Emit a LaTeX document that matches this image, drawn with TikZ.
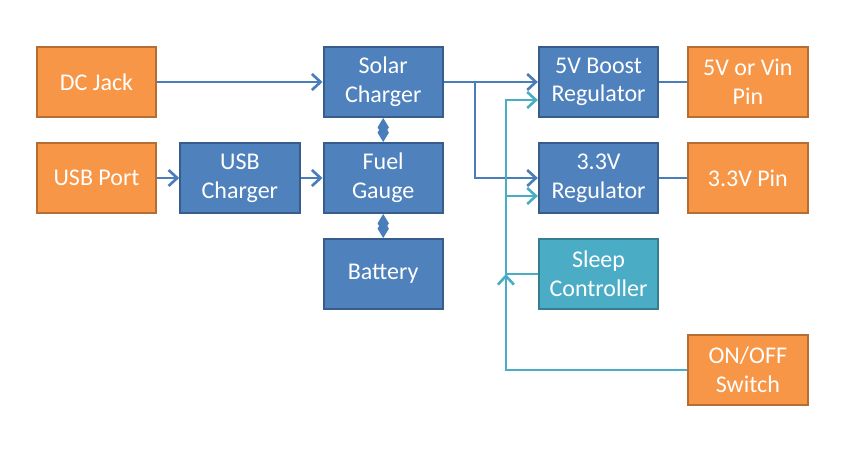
\documentclass[tikz,border=0pt]{standalone}
\usepackage{fontspec}
\setmainfont{Carlito}
\usepackage{tikz}
\usetikzlibrary{arrows.meta,positioning,calc}

\definecolor{boxorange}{HTML}{F79646}
\definecolor{edgeorange}{HTML}{B66D31}
\definecolor{boxblue}{HTML}{4F81BD}
\definecolor{edgeblue}{HTML}{385D8A}
\definecolor{boxteal}{HTML}{4BACC6}
\definecolor{edgeteal}{HTML}{357D91}
\definecolor{lineblue}{HTML}{4A7EBB}

\begin{document}
\begin{tikzpicture}[
  block/.style={draw, line width=1.5pt, minimum width=89.5pt, minimum height=52.5pt, align=center, text=white, font=\fontsize{18}{21.5}\selectfont},
  obox/.style={block, fill=boxorange, draw=edgeorange},
  bbox/.style={block, fill=boxblue, draw=edgeblue},
  tbox/.style={block, fill=boxteal, draw=edgeteal},
  arrow/.style={-{Straight Barb[length=6.5pt, width=12pt, line width=2pt]}, line width=2pt, draw=lineblue},
  tarrow/.style={arrow, draw=boxteal},
  link/.style={line width=2pt, draw=lineblue},
  dia/.style={{Diamond[length=14pt, width=8.5pt]}-{Diamond[length=14pt, width=8.5pt]}, line width=2pt, draw=lineblue, fill=lineblue}
]
  \useasboundingbox (0,0) rectangle (637.5pt,-337.5pt);

  % Power inputs
  \node[obox] (dcjack) at (72.4pt,-61.5pt) {DC Jack};
  \node[obox, below=18pt of dcjack] (usbport) {USB Port};
  \node[bbox, right=16.5pt of usbport] (usbchg) {USB\\Charger};

  % Charging and battery
  \node[bbox, right=124pt of dcjack] (solar) {Solar\\Charger};
  \node[bbox, below=18pt of solar] (fuel) {Fuel\\Gauge};
  \node[bbox, below=18pt of fuel] (battery) {Battery};

  % Regulators
  \node[bbox, right=70.5pt of solar] (boost) {5V Boost\\Regulator};
  \node[bbox, below=18pt of boost] (reg33) {3.3V\\Regulator};
  \node[tbox, below=18pt of reg33] (sleep) {Sleep\\Controller};

  % Outputs
  \node[obox, right=21pt of boost] (pin5v) {5V or Vin\\Pin};
  \node[obox, right=21pt of reg33] (pin33) {3.3V Pin};
  \node[obox, below=90pt of pin33] (switch) {ON/OFF\\Switch};

  % Arrows
  \draw[arrow] (dcjack) -- (solar);
  \draw[arrow] (usbport) -- (usbchg);
  \draw[arrow] (usbchg) -- (fuel);
  \draw[dia] (solar) -- (fuel);
  \draw[dia] (fuel) -- (battery);

  \coordinate (split) at ($(solar.east)!0.33!(boost.west)$);
  \coordinate (tbus) at ($(solar.east)!0.66!(boost.west)$);
  \coordinate (in5) at ($(boost.north west)!0.75!(boost.south west)$);
  \coordinate (in33) at ($(reg33.north west)!0.75!(reg33.south west)$);

  \draw[arrow] (solar) -- (boost);
  \draw[arrow] (split) |- (reg33.west);
  \draw[link] (boost) -- (pin5v);
  \draw[link] (reg33) -- (pin33);

  % Sleep control lines
  \draw[tarrow] (sleep.west) -| (tbus |- in5) -- (in5);
  \draw[tarrow] (tbus |- in33) -- (in33);
  \draw[tarrow] (switch.west) -| (tbus |- sleep.west);
\end{tikzpicture}
\end{document}
